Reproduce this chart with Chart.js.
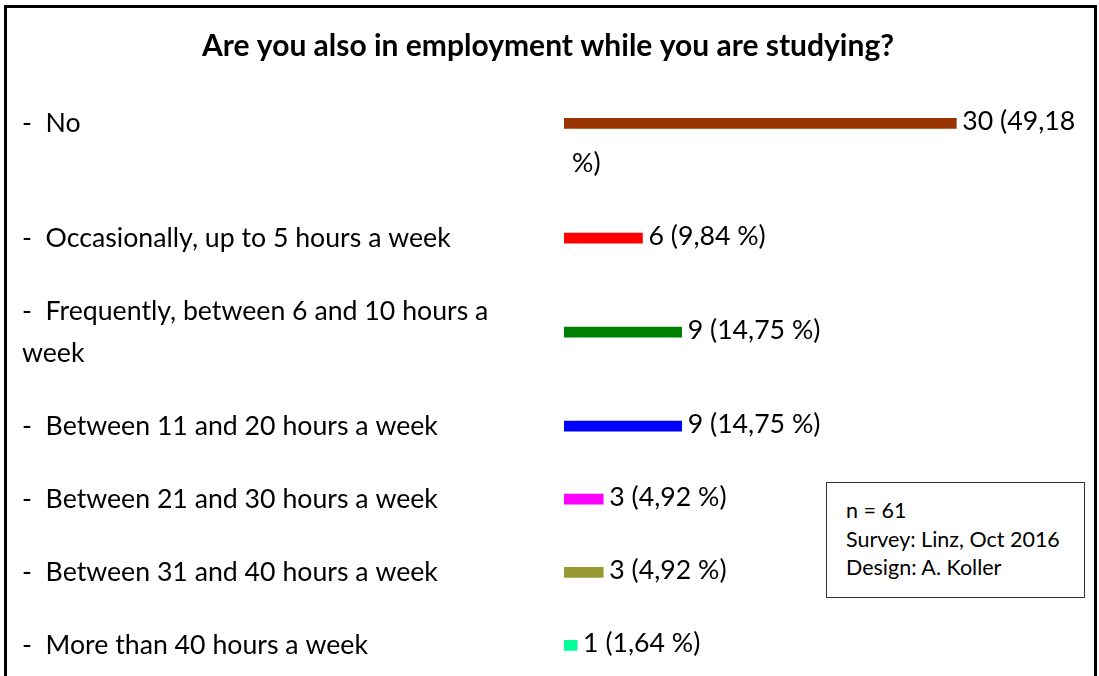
<!DOCTYPE html>
<html lang="en">
<head>
  <meta charset="UTF-8" />
  <title>Are you also in employment while you are studying?</title>
  <style>
    body {
      margin: 0;
      padding: 0;
      background: #fff;
      overflow: hidden;
      font-family: Lato, "Open Sans", sans-serif;
    }

    .frame {
      position: absolute;
      left: 4px;
      top: 5px;
      width: 1087px;
      height: 720px;
      border: 3px solid #000;
    }

    .chart-box {
      position: absolute;
      left: 0;
      top: 0;
      width: 1099px;
      height: 720px;
    }

    .note {
      position: absolute;
      left: 826px;
      top: 482px;
      width: 238px;
      height: 101px;
      padding: 13px 0 0 19px;
      border: 1px solid #333;
      background: #fff;
      font-size: 21.5px;
      line-height: 28.5px;
      color: #000;
      overflow: hidden;
    }
  </style>
</head>
<body>

<div class="frame"></div>
<div class="chart-box">
  <canvas id="employChart"></canvas>
</div>
<div class="note">
  n = 61<br>
  Survey: Linz, Oct 2016<br>
  Design: A. Koller
</div>

<script src="https://cdn.jsdelivr.net/npm/chart.js"></script>
<script>
const chartTitle = "Are you also in employment while you are studying?";

const categories = [
  ["-  No"],
  ["-  Occasionally, up to 5 hours a week"],
  ["-  Frequently, between 6 and 10 hours a", "week"],
  ["-  Between 11 and 20 hours a week"],
  ["-  Between 21 and 30 hours a week"],
  ["-  Between 31 and 40 hours a week"],
  ["-  More than 40 hours a week"]
];

const counts = [30, 6, 9, 9, 3, 3, 1];

const valueLabels = [
  ["30 (49,18", "%)"],
  ["6 (9,84 %)"],
  ["9 (14,75 %)"],
  ["9 (14,75 %)"],
  ["3 (4,92 %)"],
  ["3 (4,92 %)"],
  ["1 (1,64 %)"]
];

const barColors = ['#993300', '#FF0000', '#008000', '#0000FF', '#FF00FF', '#999933', '#00FF99'];

const FONT = "Lato, 'Open Sans', sans-serif";
const LABEL_SIZE = 26.7;
const LINE_STEP = 42;

// rows grow when a label wraps onto another line (in row units)
const EXTRA_LINE = 0.57;
const rowPos = [];
let rowTop = 0;
categories.forEach((lab, i) => {
  const block = 1 + (lab.length - 1) * EXTRA_LINE;
  const center = rowTop + block / 2;
  const valueBottom = block / 2 + 0.5 + (valueLabels[i].length - 1) * EXTRA_LINE;
  rowPos.push(center);
  rowTop += Math.max(block, valueBottom);
});
const rowsTotal = rowTop;

const valueLabelPlugin = {
  id: 'valueLabels',
  afterDatasetsDraw(chart) {
    const ctx = chart.ctx;
    const meta = chart.getDatasetMeta(0);
    ctx.save();
    ctx.font = LABEL_SIZE + "px " + FONT;
    ctx.fillStyle = '#000';
    ctx.textBaseline = 'middle';
    ctx.textAlign = 'left';
    meta.data.forEach((bar, i) => {
      valueLabels[i].forEach((line, j) => {
        // wrapped part of a label continues under the bar start
        const x = j === 0 ? bar.x + 6 : bar.base + 8;
        ctx.fillText(line, x, bar.y - 2 + j * LINE_STEP);
      });
    });
    ctx.restore();
  }
};

const ctx = document.getElementById('employChart').getContext('2d');
new Chart(ctx, {
  type: 'bar',
  data: {
    datasets: [{
      data: counts.map((v, i) => ({ x: v, y: rowPos[i] })),
      backgroundColor: barColors,
      borderWidth: 0,
      barThickness: 10
    }]
  },
  options: {
    indexAxis: 'y',
    responsive: true,
    maintainAspectRatio: false,
    animation: false,
    layout: {
      padding: { left: 22, right: 25, top: 0, bottom: 38 }
    },
    scales: {
      x: {
        type: 'linear',
        display: false,
        offset: false,
        min: 0,
        max: 39
      },
      y: {
        type: 'linear',
        reverse: true,
        offset: false,
        min: 0,
        max: rowsTotal,
        grid: { display: false, offset: false },
        border: { display: false },
        afterBuildTicks: (scale) => {
          scale.ticks = rowPos.map(v => ({ value: v }));
        },
        afterFit: (scale) => {
          scale.width = 542;
        },
        ticks: {
          autoSkip: false,
          crossAlign: 'far',
          padding: 0,
          color: '#000',
          font: { family: FONT, size: LABEL_SIZE, lineHeight: LINE_STEP / LABEL_SIZE },
          callback: (value, index) => categories[index]
        }
      }
    },
    plugins: {
      legend: { display: false },
      tooltip: { enabled: false },
      title: {
        display: true,
        text: chartTitle,
        color: '#000',
        font: { family: FONT, size: 30, weight: 'bold', lineHeight: 1.2 },
        padding: { top: 28, bottom: 22.8 }
      }
    }
  },
  plugins: [valueLabelPlugin]
});
</script>
</body>
</html>
